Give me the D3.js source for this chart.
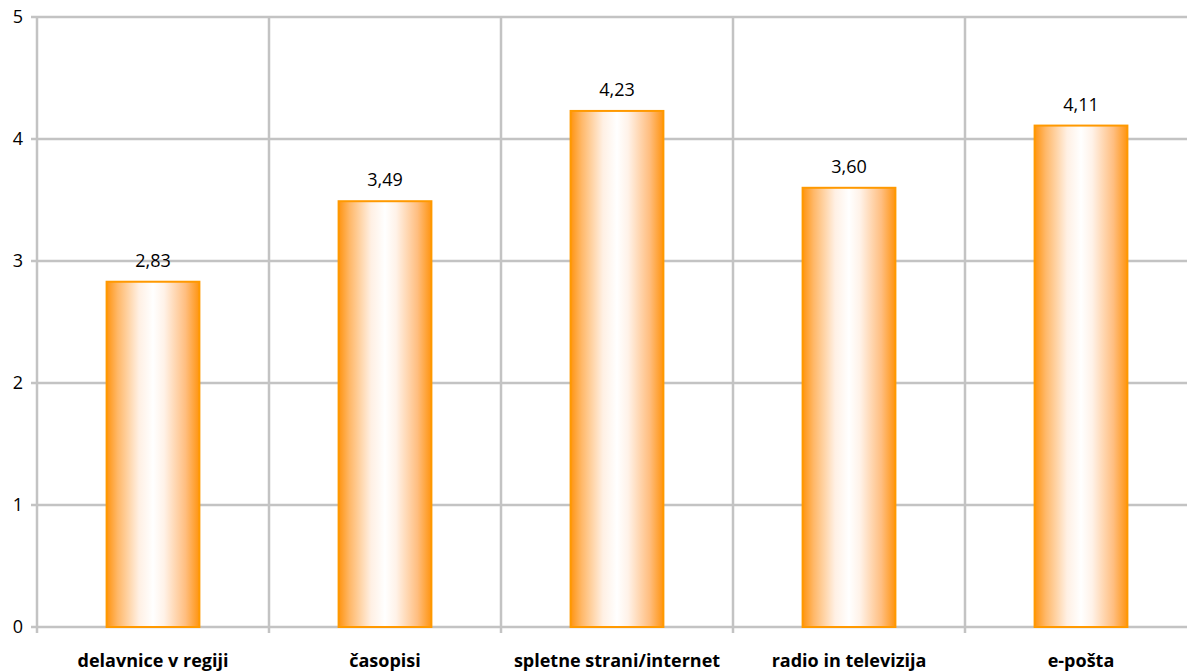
<!DOCTYPE html>
<html><head><meta charset="utf-8">
<script src="https://cdn.jsdelivr.net/npm/d3@7"></script>
<style>body{margin:0;background:#fff}svg{display:block}text{font-family:"Open Sans",Lato,sans-serif}</style>
</head><body><svg id="c" width="1187" height="672"></svg>
<script>
const categories = ["delavnice v regiji","časopisi","spletne strani/internet","radio in televizija","e-pošta"];
const values = [2.83,3.49,4.23,3.60,4.11];
const yTicks = [0,1,2,3,4,5];

(function(){
const svg = d3.select("#c");
const mLeft = 37, mTop = 17, mBottom = 627, band = 232;
const x = d3.scaleBand().domain(categories).range([mLeft, mLeft + band*categories.length]).paddingInner(0.6).paddingOuter(0.3);
const y = d3.scaleLinear().domain([0,5]).range([mBottom, mTop]);

const defs = svg.append("defs");
const g = defs.append("linearGradient").attr("id","grad").attr("x1","0").attr("x2","1").attr("y1","0").attr("y2","0");
[[0,"#ff9410"],[0.12,"#ffb869"],[0.35,"#fff0e4"],[0.5,"#ffffff"],[0.62,"#fff2e8"],[0.85,"#ffbe80"],[1,"#ff9410"]]
  .forEach(([o,c])=>g.append("stop").attr("offset",o).attr("stop-color",c));

const grid = "#c3c3c3";
svg.append("g").selectAll("line").data(yTicks).join("line")
  .attr("x1", mLeft-6).attr("x2", 1187).attr("y1", d=>y(d)).attr("y2", d=>y(d))
  .attr("stroke", grid).attr("stroke-width", 2.5);
const bounds = d3.range(categories.length+1).map(i=>mLeft + i*band);
svg.append("g").selectAll("line").data(bounds).join("line")
  .attr("x1", d=>d).attr("x2", d=>d).attr("y1", mTop).attr("y2", mBottom+6)
  .attr("stroke", grid).attr("stroke-width", 2.5);

svg.append("g").selectAll("text").data(yTicks).join("text")
  .attr("x", 23).attr("y", d=>y(d)).attr("dy","0.35em").attr("text-anchor","end")
  .attr("font-size", 18).attr("fill","#000").text(d=>d);

svg.append("g").selectAll("rect").data(values).join("rect")
  .attr("x", (d,i)=>x(categories[i])).attr("width", x.bandwidth())
  .attr("y", d=>y(d)).attr("height", d=>y(0)-y(d))
  .attr("fill","url(#grad)").attr("stroke","#ff9900").attr("stroke-width",2);

svg.append("g").selectAll("text").data(values).join("text")
  .attr("x", (d,i)=>x(categories[i]) + x.bandwidth()/2).attr("y", d=>y(d)-15)
  .attr("text-anchor","middle").attr("font-size",18).attr("fill","#000")
  .text(d=>d.toFixed(2).replace(".",","));

svg.append("g").selectAll("text").data(categories).join("text")
  .attr("x", d=>x(d) + x.bandwidth()/2).attr("y", 667)
  .attr("text-anchor","middle").attr("font-size",18).attr("font-weight","bold").attr("fill","#000")
  .text(d=>d);
})();
</script></body></html>
